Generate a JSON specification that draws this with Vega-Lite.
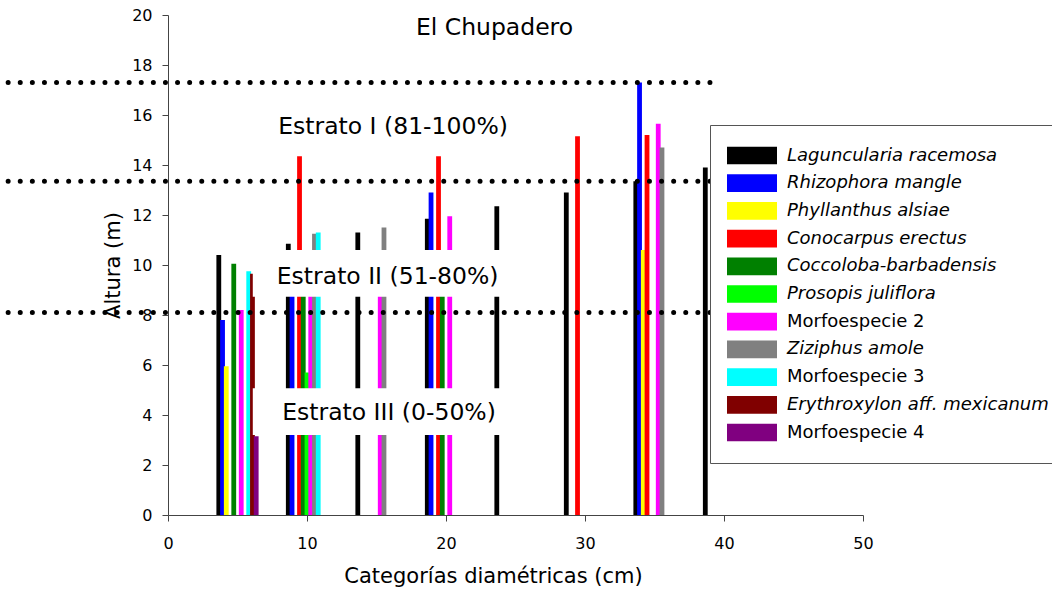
{
  "$schema": "https://vega.github.io/schema/vega-lite/v6.json",
  "width": 695,
  "height": 500,
  "autosize": {"type": "none"},
  "padding": {"left": 168, "top": 15, "right": 189, "bottom": 77},
  "background": "white",
  "config": {
    "view": {"stroke": null},
    "font": "DejaVu Sans",
    "axis": {
      "domainColor": "#444",
      "tickColor": "#444",
      "labelColor": "black",
      "titleColor": "black",
      "labelFont": "DejaVu Sans",
      "titleFont": "DejaVu Sans",
      "labelFontSize": 16,
      "titleFontSize": 21,
      "titleFontWeight": "normal",
      "grid": false,
      "tickSize": 6
    },
    "legend": {
      "orient": "none",
      "legendX": 542,
      "legendY": 110,
      "direction": "vertical",
      "fillColor": "white",
      "strokeColor": "#555",
      "padding": 17,
      "symbolType": "M-1,-0.354H1V0.354H-1Z",
      "symbolSize": 2500,
      "symbolStrokeWidth": 0,
      "symbolOffset": 0,
      "clipHeight": 27,
      "rowPadding": 0.7,
      "labelFont": "DejaVu Sans",
      "labelFontSize": 18,
      "labelColor": "black",
      "labelOffset": 10,
      "labelLimit": 400
    }
  },
  "datasets": {
    "alturas": [
      {"diametro": 5, "especie": "Laguncularia racemosa", "altura": 10.4},
      {"diametro": 5, "especie": "Rhizophora mangle", "altura": 7.8},
      {"diametro": 5, "especie": "Phyllanthus alsiae", "altura": 5.95},
      {"diametro": 5, "especie": "Coccoloba-barbadensis", "altura": 10.05},
      {"diametro": 5, "especie": "Morfoespecie 2", "altura": 8.2},
      {"diametro": 5, "especie": "Morfoespecie 3", "altura": 9.75},
      {"diametro": 5, "especie": "Erythroxylon aff. mexicanum", "altura": 9.65},
      {"diametro": 5, "especie": "Morfoespecie 4", "altura": 3.15},
      {"diametro": 10, "especie": "Laguncularia racemosa", "altura": 10.85},
      {"diametro": 10, "especie": "Rhizophora mangle", "altura": 9.8},
      {"diametro": 10, "especie": "Conocarpus erectus", "altura": 14.35},
      {"diametro": 10, "especie": "Coccoloba-barbadensis", "altura": 10.1},
      {"diametro": 10, "especie": "Prosopis juliflora", "altura": 5.7},
      {"diametro": 10, "especie": "Morfoespecie 2", "altura": 9.3},
      {"diametro": 10, "especie": "Ziziphus amole", "altura": 11.25},
      {"diametro": 10, "especie": "Morfoespecie 3", "altura": 11.3},
      {"diametro": 15, "especie": "Laguncularia racemosa", "altura": 11.3},
      {"diametro": 15, "especie": "Morfoespecie 2", "altura": 9.5},
      {"diametro": 15, "especie": "Ziziphus amole", "altura": 11.5},
      {"diametro": 20, "especie": "Laguncularia racemosa", "altura": 11.85},
      {"diametro": 20, "especie": "Rhizophora mangle", "altura": 12.9},
      {"diametro": 20, "especie": "Conocarpus erectus", "altura": 14.35},
      {"diametro": 20, "especie": "Coccoloba-barbadensis", "altura": 10.0},
      {"diametro": 20, "especie": "Morfoespecie 2", "altura": 11.95},
      {"diametro": 25, "especie": "Laguncularia racemosa", "altura": 12.35},
      {"diametro": 30, "especie": "Laguncularia racemosa", "altura": 12.9},
      {"diametro": 30, "especie": "Conocarpus erectus", "altura": 15.15},
      {"diametro": 35, "especie": "Laguncularia racemosa", "altura": 13.35},
      {"diametro": 35, "especie": "Rhizophora mangle", "altura": 17.3},
      {"diametro": 35, "especie": "Phyllanthus alsiae", "altura": 10.6},
      {"diametro": 35, "especie": "Conocarpus erectus", "altura": 15.2},
      {"diametro": 35, "especie": "Morfoespecie 2", "altura": 15.65},
      {"diametro": 35, "especie": "Ziziphus amole", "altura": 14.7},
      {"diametro": 40, "especie": "Laguncularia racemosa", "altura": 13.9}
    ],
    "estratos": [
      {"estrato": "Estrato I (81-100%)", "cx": 16.19, "cy": 15.53, "sup": 16.44, "inf": 14.6},
      {"estrato": "Estrato II (51-80%)", "cx": 15.8, "cy": 9.53, "sup": 10.6, "inf": 8.73},
      {"estrato": "Estrato III (0-50%)", "cx": 15.9, "cy": 4.08, "sup": 5.07, "inf": 3.2}
    ],
    "umbrales": [
      {"altura": 17.3},
      {"altura": 13.35},
      {"altura": 8.1}
    ],
    "sitio": [
      {"nombre": "El Chupadero", "cx": 23.49, "cy": 19.48}
    ]
  },
  "layer": [
    {
      "data": {"name": "alturas"},
      "mark": {
        "type": "bar",
        "width": 4.8,
        "xOffset": {"expr": "indexof(['Laguncularia racemosa', 'Rhizophora mangle', 'Phyllanthus alsiae', 'Conocarpus erectus', 'Coccoloba-barbadensis', 'Prosopis juliflora', 'Morfoespecie 2', 'Ziziphus amole', 'Morfoespecie 3', 'Erythroxylon aff. mexicanum', 'Morfoespecie 4'], datum.especie) * 3.74 - 18.7"}
      },
      "encoding": {
        "x": {
          "field": "diametro",
          "type": "quantitative",
          "scale": {"domain": [0, 50], "nice": false, "padding": 0},
          "axis": {
            "values": [0, 10, 20, 30, 40, 50],
            "title": "Categorías diamétricas (cm)",
            "titleX": 325,
            "titleY": 67,
            "titleBaseline": "alphabetic",
            "titleAnchor": "middle",
            "labelPadding": 14,
            "labelFlush": false
          }
        },
        "y": {
          "field": "altura",
          "type": "quantitative",
          "stack": null,
          "scale": {"domain": [0, 20], "nice": false},
          "axis": {
            "values": [0, 2, 4, 6, 8, 10, 12, 14, 16, 18, 20],
            "title": "Altura (m)",
            "titleX": -55,
            "titleY": 250,
            "titleAngle": -90,
            "titleAlign": "center",
            "titleBaseline": "middle",
            "labelPadding": 10
          }
        },
        "color": {
          "field": "especie",
          "type": "nominal",
          "scale": {
            "domain": ["Laguncularia racemosa", "Rhizophora mangle", "Phyllanthus alsiae", "Conocarpus erectus", "Coccoloba-barbadensis", "Prosopis juliflora", "Morfoespecie 2", "Ziziphus amole", "Morfoespecie 3", "Erythroxylon aff. mexicanum", "Morfoespecie 4"],
            "range": ["#000000", "#0000ff", "#ffff00", "#ff0000", "#008000", "#00ff00", "#ff00ff", "#808080", "#00ffff", "#800000", "#800080"]
          },
          "legend": {
            "title": null,
            "encode": {
              "labels": {
                "update": {
                  "fontStyle": {"signal": "test(/^Morfo/, datum.label) ? 'normal' : 'italic'"}
                }
              }
            }
          }
        }
      }
    },
    {
      "data": {"name": "estratos"},
      "mark": {"type": "rect", "fill": "white"},
      "encoding": {
        "x": {"datum": 6.1, "type": "quantitative"},
        "x2": {"datum": 25.36},
        "y": {"field": "sup", "type": "quantitative"},
        "y2": {"field": "inf"}
      }
    },
    {
      "data": {"name": "estratos"},
      "mark": {"type": "text", "font": "DejaVu Sans", "fontSize": 23.5, "color": "black", "align": "center", "baseline": "middle"},
      "encoding": {
        "x": {"field": "cx", "type": "quantitative"},
        "y": {"field": "cy", "type": "quantitative"},
        "text": {"field": "estrato"}
      }
    },
    {
      "data": {"name": "sitio"},
      "mark": {"type": "text", "font": "DejaVu Sans", "fontSize": 23.5, "color": "black", "align": "center", "baseline": "middle"},
      "encoding": {
        "x": {"field": "cx", "type": "quantitative"},
        "y": {"field": "cy", "type": "quantitative"},
        "text": {"field": "nombre"}
      }
    },
    {
      "data": {"name": "umbrales"},
      "mark": {"type": "rule", "color": "black", "strokeWidth": 5, "strokeCap": "round", "strokeDash": [0, 12.1]},
      "encoding": {
        "x": {"datum": -11.5, "type": "quantitative"},
        "x2": {"datum": 39.05},
        "y": {"field": "altura", "type": "quantitative"}
      }
    }
  ]
}
